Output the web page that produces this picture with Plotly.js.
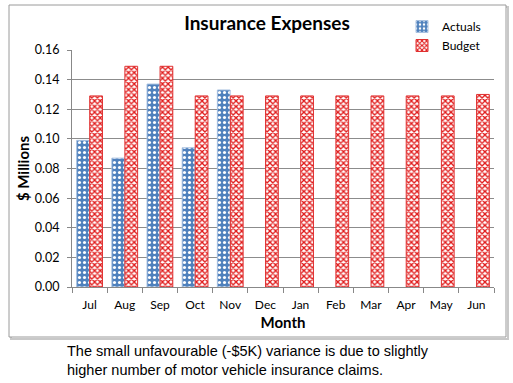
<!DOCTYPE html>
<html><head><meta charset="utf-8">
<script src="https://cdn.plot.ly/plotly-3.0.1.min.js"></script>
<style>html,body{margin:0;padding:0;background:#fff}#chart{width:513px;height:383px}</style>
</head><body><div id="chart"></div>
<script>
const months = ["Jul","Aug","Sep","Oct","Nov","Dec","Jan","Feb","Mar","Apr","May","Jun"];
const actuals = [0.099, 0.087, 0.137, 0.094, 0.133, null, null, null, null, null, null, null];
const budget = [0.129, 0.149, 0.149, 0.129, 0.129, 0.129, 0.129, 0.129, 0.129, 0.129, 0.129, 0.130];
const yTicks = [0, 0.02, 0.04, 0.06, 0.08, 0.10, 0.12, 0.14, 0.16];
const caption = "The small unfavourable (-$5K) variance is due to slightly<br>higher number of motor vehicle insurance claims.";

const font = "Lato, 'Open Sans', sans-serif";
const traces = [
  {type:"bar", name:"Actuals", x:months, y:actuals,
   marker:{color:"#4F81BD", line:{color:"#A7C0E0", width:1},
     pattern:{shape:".", fgcolor:"#ffffff", bgcolor:"#4F81BD", size:5, solidity:0.3}}},
  {type:"bar", name:"Budget", x:months, y:budget,
   marker:{color:"#ffffff", line:{color:"#E03030", width:1},
     pattern:{shape:"x", fgcolor:"#E01818", bgcolor:"#ffffff", size:4, solidity:0.55}}}
];
const L=72, R=19, T=50, B=96, W=513-L-R, H=383-T-B;
const px=(x)=>(x-L)/W, py=(y)=>(383-B-y)/H;
const layout = {
  width:513, height:383,
  margin:{l:L, r:R, t:T, b:B, pad:0},
  paper_bgcolor:"#ffffff", plot_bgcolor:"#ffffff",
  font:{family:font, size:12, color:"#000"},
  barmode:"group", bargap:0.26, bargroupgap:0.02,
  showlegend:true,
  legend:{x:px(402), y:py(12), xanchor:"left", yanchor:"top", orientation:"v",
    font:{family:font, size:12}, bgcolor:"rgba(0,0,0,0)", itemwidth:30, tracegroupgap:5},
  title:{text:"<b>Insurance Expenses</b>", x:px(267), xref:"paper", xanchor:"center",
    y:1-17/383, yanchor:"top", font:{family:font, size:19, color:"#000"}},
  xaxis:{type:"category", categoryarray:months, showgrid:false, showline:true, linecolor:"#888",
    linewidth:1, ticks:"outside", tickson:"boundaries", ticklen:5, tickcolor:"#888",
    tickfont:{family:font, size:12}, ticklabelstandoff:7, fixedrange:true,
    title:{text:"<b>Month</b>", font:{family:font, size:15}, standoff:6}},
  yaxis:{range:[0,0.16], tickvals:yTicks, tickformat:".2f", showgrid:true, gridcolor:"#8c8c8c",
    gridwidth:1, showline:true, linecolor:"#888", ticks:"outside", ticklen:4, tickcolor:"#888",
    tickfont:{family:font, size:12.5}, ticklabelstandoff:5, zeroline:false,
    title:{text:"<b>$ Millions</b>", font:{family:font, size:15}, standoff:1}},
  shapes:[
    {type:"rect", xref:"paper", yref:"paper", x0:px(11), x1:px(508), y0:py(339), y1:py(7),
     line:{color:"#c8c8c8", width:2}, layer:"below"},
    {type:"rect", xref:"paper", yref:"paper", x0:px(9), x1:px(506), y0:py(337), y1:py(5),
     line:{color:"#9a9a9a", width:1}, fillcolor:"#ffffff", layer:"below"}
  ],
  annotations:[
    {text:caption, xref:"paper", yref:"paper", x:px(65), y:py(341), xanchor:"left", yanchor:"top",
     align:"left", showarrow:false, font:{family:"Liberation Sans, Arial, sans-serif", size:14.5, color:"#000"}}
  ]
};
Plotly.newPlot("chart", traces, layout, {displayModeBar:false, staticPlot:true});
</script></body></html>
